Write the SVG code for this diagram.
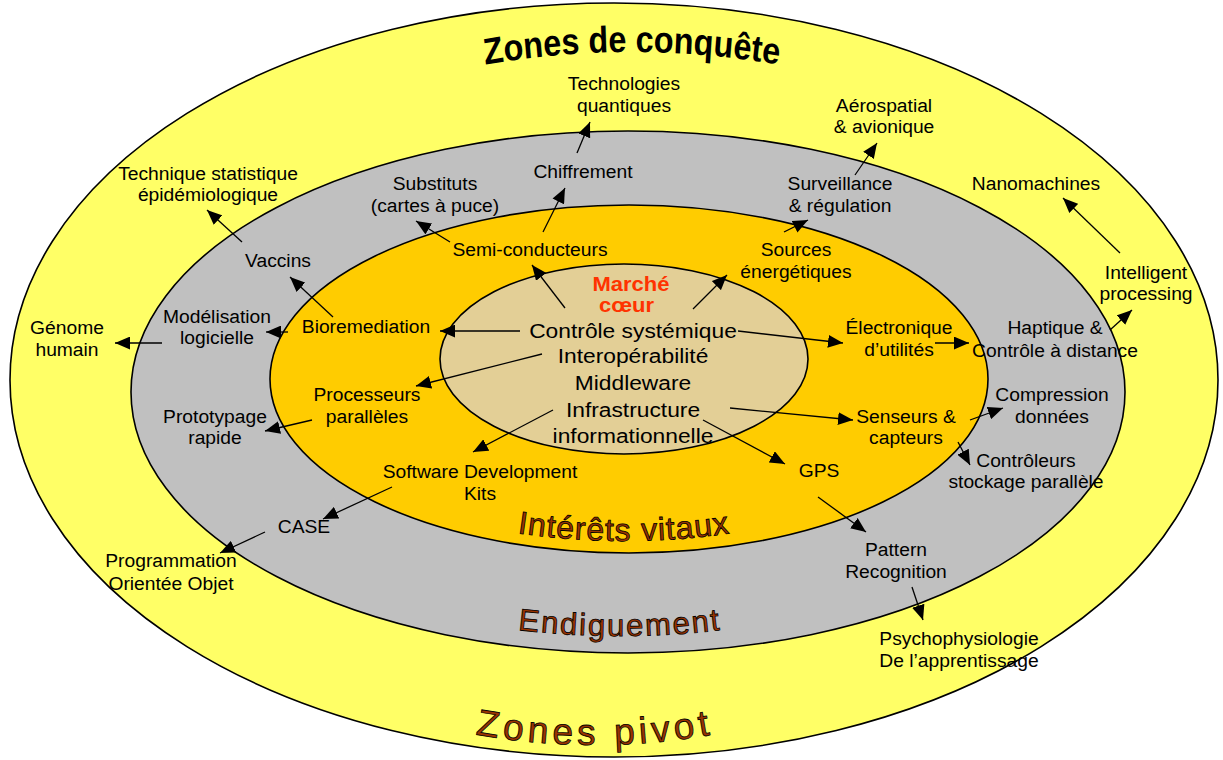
<svg xmlns="http://www.w3.org/2000/svg" xmlns:xlink="http://www.w3.org/1999/xlink" width="1223" height="760" viewBox="0 0 1223 760">
<defs>
<style>
.ring{stroke:#000;stroke-width:1.6}
.t{font-family:"Liberation Sans",Arial,sans-serif;font-size:18px;text-anchor:middle;fill:#000}
.c{font-family:"Liberation Sans",Arial,sans-serif;font-size:21px;text-anchor:middle;fill:#000}
.m{font-family:"Liberation Sans",Arial,sans-serif;font-size:20px;font-weight:bold;text-anchor:middle;fill:#FF3300}
.tt{font-family:"Liberation Sans",Arial,sans-serif;text-anchor:middle}
.brown{fill:#993300;stroke:#000;stroke-width:0.8}
#connectors line{stroke:#000;stroke-width:1.3;marker-end:url(#ah)}
</style>
<marker id="ah" markerUnits="userSpaceOnUse" markerWidth="15" markerHeight="13" refX="14" refY="6" orient="auto" viewBox="0 0 14 12">
<path d="M0,0 L14,6 L0,12 z" fill="#000"/>
</marker>
<path id="p1" d="M -220 74 Q 0 30 220 74"/>
<path id="p2" d="M 415 721 Q 595 769 775 721"/>
<path id="p3" d="M 454 521 Q 624 561 794 521"/>
<path id="p4" d="M 450 619 Q 620 653 790 619"/>
</defs>
<rect width="1223" height="760" fill="#fff"/>
<g id="zones">
<ellipse id="z-conquete" class="ring" cx="614" cy="380" rx="604" ry="377" fill="#FFFF66"/>
<ellipse id="z-endiguement" class="ring" cx="628" cy="392" rx="497" ry="261" fill="#C0C0C0"/>
<ellipse id="z-vitaux" class="ring" cx="629" cy="379" rx="359" ry="174" fill="#FFCC00"/>
<ellipse id="z-coeur" class="ring" cx="624" cy="359" rx="184" ry="95" fill="#E3CF96"/>
</g>
<g id="titles">
<text class="tt" transform="translate(632,0) scale(0.875,1)" font-size="37" font-weight="bold" fill="#000"><textPath xlink:href="#p1" href="#p1" startOffset="50%">Zones de conquête</textPath></text>
<text class="tt brown" font-size="37" letter-spacing="4.5"><textPath xlink:href="#p2" href="#p2" startOffset="50%">Zones pivot</textPath></text>
<text class="tt brown" font-size="32" letter-spacing="1"><textPath xlink:href="#p3" href="#p3" startOffset="50%">Intérêts vitaux</textPath></text>
<text class="tt brown" font-size="31" letter-spacing="2"><textPath xlink:href="#p4" href="#p4" startOffset="50%">Endiguement</textPath></text>
</g>
<g id="connectors">
<line x1="577" y1="153" x2="590" y2="122"/>
<line x1="543" y1="232" x2="565" y2="188"/>
<line x1="450" y1="242" x2="416" y2="221"/>
<line x1="565" y1="308" x2="532" y2="265"/>
<line x1="693" y1="309" x2="727" y2="275"/>
<line x1="520" y1="331" x2="440" y2="331"/>
<line x1="542" y1="354" x2="416" y2="386"/>
<line x1="553" y1="410" x2="473" y2="452"/>
<line x1="738" y1="331" x2="843" y2="343"/>
<line x1="935" y1="343" x2="969" y2="343"/>
<line x1="1110" y1="330" x2="1132" y2="310"/>
<line x1="1120" y1="253" x2="1063" y2="198"/>
<line x1="855" y1="175" x2="877" y2="143"/>
<line x1="784" y1="232" x2="808" y2="220"/>
<line x1="333" y1="317" x2="290" y2="277"/>
<line x1="242" y1="242" x2="207" y2="210"/>
<line x1="288" y1="332" x2="266" y2="332"/>
<line x1="162" y1="343" x2="115" y2="343"/>
<line x1="312" y1="420" x2="265" y2="431"/>
<line x1="392" y1="487" x2="323" y2="519"/>
<line x1="265" y1="532" x2="220" y2="553"/>
<line x1="730" y1="408" x2="853" y2="420"/>
<line x1="703" y1="420" x2="785" y2="464"/>
<line x1="970" y1="420" x2="1003" y2="408"/>
<line x1="958" y1="442" x2="970" y2="465"/>
<line x1="818" y1="497" x2="866" y2="532"/>
<line x1="912" y1="587" x2="923" y2="620"/>
</g>
<g id="n-coeur">
<text class="m" transform="translate(631,291) scale(1.1,1)"><tspan x="0" y="0">Marché</tspan><tspan x="-4" y="21">cœur</tspan></text>
</g>
<g id="n-central">
<text class="c" transform="translate(633,338) scale(1.085,1)"><tspan x="0" y="0">Contrôle systémique</tspan><tspan x="0" y="25">Interopérabilité</tspan><tspan x="0" y="52">Middleware</tspan><tspan x="0" y="79">Infrastructure</tspan><tspan x="0" y="105">informationnelle</tspan></text>
</g>
<g id="n-technologies"><text class="t" transform="translate(624,90) scale(1.07,1)"><tspan x="0" y="0">Technologies</tspan><tspan x="0" y="22">quantiques</tspan></text></g>
<g id="n-aerospatial"><text class="t" transform="translate(884,112) scale(1.07,1)"><tspan x="0" y="0">Aérospatial</tspan><tspan x="0" y="21">&amp; avionique</tspan></text></g>
<g id="n-technique"><text class="t" transform="translate(208,180) scale(1.07,1)"><tspan x="0" y="0">Technique statistique</tspan><tspan x="0" y="21">épidémiologique</tspan></text></g>
<g id="n-substituts"><text class="t" transform="translate(435,190) scale(1.07,1)"><tspan x="0" y="0">Substituts</tspan><tspan x="0" y="22">(cartes à puce)</tspan></text></g>
<g id="n-chiffrement"><text class="t" transform="translate(583,178) scale(1.07,1)">Chiffrement</text></g>
<g id="n-surveillance"><text class="t" transform="translate(840,190) scale(1.07,1)"><tspan x="0" y="0">Surveillance</tspan><tspan x="0" y="22">&amp; régulation</tspan></text></g>
<g id="n-nanomachines"><text class="t" transform="translate(1036,190) scale(1.07,1)">Nanomachines</text></g>
<g id="n-vaccins"><text class="t" transform="translate(278,267) scale(1.07,1)">Vaccins</text></g>
<g id="n-semi"><text class="t" transform="translate(530,256) scale(1.07,1)">Semi-conducteurs</text></g>
<g id="n-sources"><text class="t" transform="translate(796,256) scale(1.07,1)"><tspan x="0" y="0">Sources</tspan><tspan x="0" y="22">énergétiques</tspan></text></g>
<g id="n-intelligent"><text class="t" transform="translate(1146,279) scale(1.07,1)"><tspan x="0" y="0">Intelligent</tspan><tspan x="0" y="21">processing</tspan></text></g>
<g id="n-genome"><text class="t" transform="translate(67,334) scale(1.07,1)"><tspan x="0" y="0">Génome</tspan><tspan x="0" y="22">humain</tspan></text></g>
<g id="n-modelisation"><text class="t" transform="translate(217,323) scale(1.07,1)"><tspan x="0" y="0">Modélisation</tspan><tspan x="0" y="21">logicielle</tspan></text></g>
<g id="n-bioremediation"><text class="t" transform="translate(366,333) scale(1.07,1)">Bioremediation</text></g>
<g id="n-electronique"><text class="t" transform="translate(899,334) scale(1.07,1)"><tspan x="0" y="0">Électronique</tspan><tspan x="0" y="22">d’utilités</tspan></text></g>
<g id="n-haptique"><text class="t" transform="translate(1055,334) scale(1.07,1)"><tspan x="0" y="0">Haptique &amp;</tspan><tspan x="0" y="23">Contrôle à distance</tspan></text></g>
<g id="n-processeurs"><text class="t" transform="translate(367,401) scale(1.07,1)"><tspan x="0" y="0">Processeurs</tspan><tspan x="0" y="22">parallèles</tspan></text></g>
<g id="n-prototypage"><text class="t" transform="translate(215,423) scale(1.07,1)"><tspan x="0" y="0">Prototypage</tspan><tspan x="0" y="21">rapide</tspan></text></g>
<g id="n-compression"><text class="t" transform="translate(1052,401) scale(1.07,1)"><tspan x="0" y="0">Compression</tspan><tspan x="0" y="22">données</tspan></text></g>
<g id="n-senseurs"><text class="t" transform="translate(906,423) scale(1.07,1)"><tspan x="0" y="0">Senseurs &amp;</tspan><tspan x="0" y="21">capteurs</tspan></text></g>
<g id="n-controleurs"><text class="t" transform="translate(1026,467) scale(1.07,1)"><tspan x="0" y="0">Contrôleurs</tspan><tspan x="0" y="21">stockage parallèle</tspan></text></g>
<g id="n-gps"><text class="t" transform="translate(819,477) scale(1.07,1)">GPS</text></g>
<g id="n-sdk"><text class="t" transform="translate(480,478) scale(1.07,1)"><tspan x="0" y="0">Software Development</tspan><tspan x="0" y="22">Kits</tspan></text></g>
<g id="n-case"><text class="t" transform="translate(304,533) scale(1.07,1)">CASE</text></g>
<g id="n-programmation"><text class="t" transform="translate(171,567) scale(1.07,1)"><tspan x="0" y="0">Programmation</tspan><tspan x="0" y="23">Orientée Objet</tspan></text></g>
<g id="n-pattern"><text class="t" transform="translate(896,556) scale(1.07,1)"><tspan x="0" y="0">Pattern</tspan><tspan x="0" y="22">Recognition</tspan></text></g>
<g id="n-psycho"><text class="t" transform="translate(959,645) scale(1.07,1)"><tspan x="0" y="0">Psychophysiologie</tspan><tspan x="0" y="22">De l’apprentissage</tspan></text></g>
</svg>
